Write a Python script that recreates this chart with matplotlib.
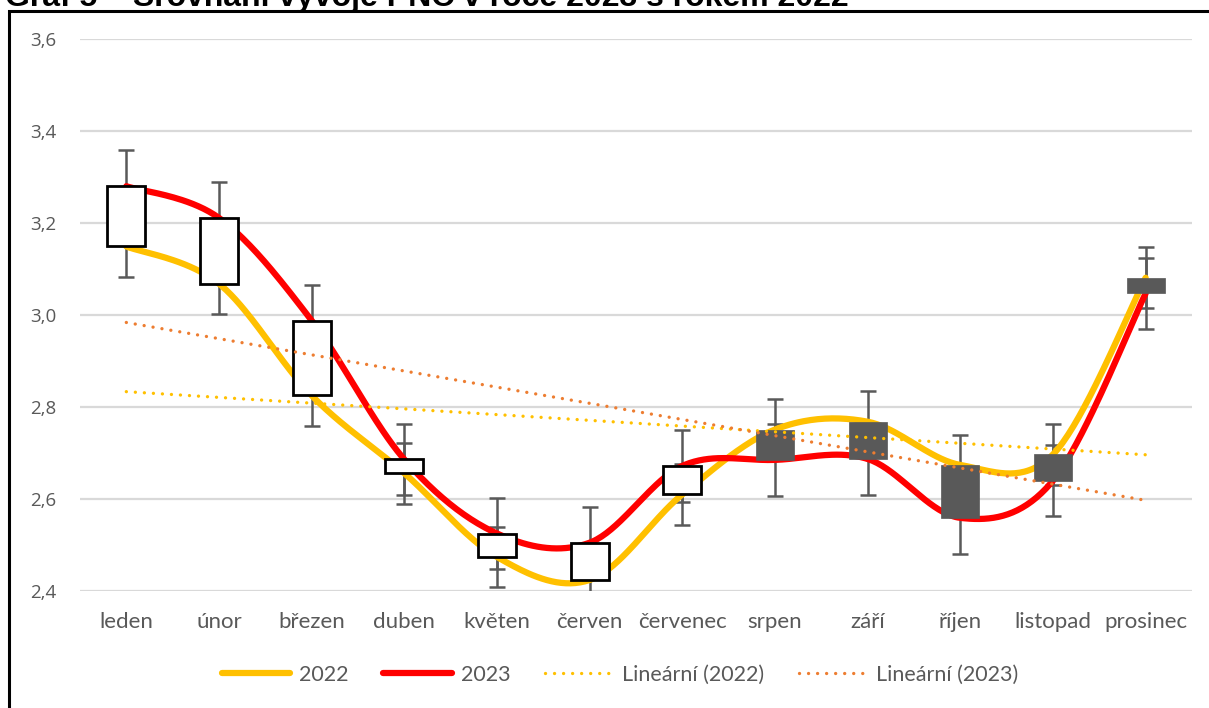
import numpy as np
import matplotlib
matplotlib.use("Agg")
import matplotlib.pyplot as plt
from matplotlib.lines import Line2D
from matplotlib.patches import Rectangle

# ---------------------------------------------------------------------------
# Data
# ---------------------------------------------------------------------------
months = ["leden", "únor", "březen", "duben", "květen", "červen",
          "červenec", "srpen", "září", "říjen", "listopad", "prosinec"]
values_2022 = [3.149, 3.068, 2.825, 2.656, 2.474, 2.424,
               2.610, 2.751, 2.768, 2.674, 2.697, 3.081]
values_2023 = [3.280, 3.211, 2.988, 2.686, 2.525, 2.505,
               2.672, 2.685, 2.687, 2.559, 2.640, 3.047]
err_2022 = 0.066
err_2023 = 0.078
yticks = [2.4, 2.6, 2.8, 3.0, 3.2, 3.4, 3.6]

TITLE = "Graf 5 – Srovnání vývoje PNC v roce 2023 s rokem 2022"
C22 = "#FFC000"
C23 = "#FF0000"
CTREND23 = "#ED7D31"
GREY = "#595959"
FONT = ["Lato", "DejaVu Sans"]
DOTS = (0, (0.01, 2.7))


def _smooth(ys, n=40):
    """Excel-like smoothed line (Catmull-Rom as cubic Bezier)."""
    ys = np.asarray(ys, float)
    xs = np.arange(len(ys), dtype=float)
    px = np.concatenate([[xs[0]], xs, [xs[-1]]])
    py = np.concatenate([[ys[0]], ys, [ys[-1]]])
    out_x, out_y = [], []
    t = np.linspace(0, 1, n)
    for i in range(1, len(px) - 2):
        p0 = np.array([px[i], py[i]])
        p3 = np.array([px[i + 1], py[i + 1]])
        c1 = p0 + (p3 - np.array([px[i - 1], py[i - 1]])) / 6
        c2 = p3 - (np.array([px[i + 2], py[i + 2]]) - p0) / 6
        b = ((1 - t) ** 3)[:, None] * p0 + (3 * (1 - t) ** 2 * t)[:, None] * c1 \
            + (3 * (1 - t) * t ** 2)[:, None] * c2 + (t ** 3)[:, None] * p3
        out_x.extend(b[:, 0])
        out_y.extend(b[:, 1])
    return out_x, out_y


fig = plt.figure(figsize=(12.09, 7.08), dpi=100)
ax = fig.add_axes([80 / 1209, 1 - 591 / 708, 1112 / 1209, 552 / 708])

x = np.arange(len(months))

# error bars (under everything else)
ax.errorbar(x, values_2022, yerr=err_2022, fmt="none", ecolor=GREY,
            elinewidth=1.8, capsize=5.5, capthick=1.8, zorder=2)
ax.errorbar(x, values_2023, yerr=err_2023, fmt="none", ecolor=GREY,
            elinewidth=1.8, capsize=5.5, capthick=1.8, zorder=2)

# smoothed series
sx, sy = _smooth(values_2022)
ax.plot(sx, sy, color=C22, linewidth=4.5, solid_capstyle="round", zorder=3)
sx, sy = _smooth(values_2023)
ax.plot(sx, sy, color=C23, linewidth=4.5, solid_capstyle="round", zorder=3)

# up/down bars
bw = 0.41
for xi, a, b in zip(x, values_2022, values_2023):
    lo, hi = min(a, b), max(a, b)
    if b >= a:
        rect = Rectangle((xi - bw / 2, lo), bw, hi - lo, facecolor="white",
                         edgecolor="black", linewidth=2, zorder=4)
    else:
        rect = Rectangle((xi - bw / 2, lo), bw, hi - lo, facecolor=GREY,
                         edgecolor=GREY, linewidth=0.5, zorder=4)
    ax.add_patch(rect)

# linear trends
k22 = np.polyfit(x, values_2022, 1)
k23 = np.polyfit(x, values_2023, 1)
ax.plot(x, np.polyval(k22, x), color=C22, linewidth=2.4,
        linestyle=DOTS, dash_capstyle="round", zorder=5)
ax.plot(x, np.polyval(k23, x), color=CTREND23, linewidth=2.4,
        linestyle=DOTS, dash_capstyle="round", zorder=5)

ax.set_xlim(-0.5, len(months) - 0.5)
ax.set_ylim(2.4, 3.6)
ax.set_yticks(yticks)
ax.set_yticklabels([f"{v:.1f}".replace(".", ",") for v in yticks],
                   fontsize=13.5, color=GREY, family=["Open Sans", "DejaVu Sans"])
ax.set_xticks(x)
ax.set_xticklabels(months, fontsize=16, color=GREY, family=FONT)
ax.tick_params(axis="both", length=0)
ax.tick_params(axis="y", pad=17)
ax.tick_params(axis="x", pad=15)
ax.grid(axis="y", color="#D9D9D9", linewidth=1.6, zorder=0)
ax.set_axisbelow(True)
for s in ax.spines.values():
    s.set_visible(False)

handles = [
    Line2D([], [], color=C22, linewidth=4.5, solid_capstyle="round"),
    Line2D([], [], color=C23, linewidth=4.5, solid_capstyle="round"),
    Line2D([], [], color=C22, linewidth=2.4, linestyle=DOTS, dash_capstyle="round"),
    Line2D([], [], color=CTREND23, linewidth=2.4, linestyle=DOTS, dash_capstyle="round"),
]
labels = ["2022", "2023", "Lineární (2022)", "Lineární (2023)"]
fig.legend(handles, labels, loc="center", bbox_to_anchor=(620 / 1209, 1 - 675 / 708),
           ncol=4, frameon=False, handlelength=3.2, columnspacing=1.6,
           handletextpad=0.4, prop={"family": FONT, "size": 15.5},
           labelcolor=GREY)

# outer frame (bottom edge lies below the picture) and cut title
fig.patches.append(Rectangle((9 / 1209, -0.2), 1.2, 1.2 - 10.5 / 708,
                             transform=fig.transFigure, fill=False,
                             edgecolor="black", linewidth=2.2))
fig.text(5 / 1209, 1 - 6 / 708, TITLE, fontsize=23, fontweight="bold",
         family=["Liberation Sans", "DejaVu Sans"], va="baseline", ha="left")

fig.savefig("out.png", dpi=100)
